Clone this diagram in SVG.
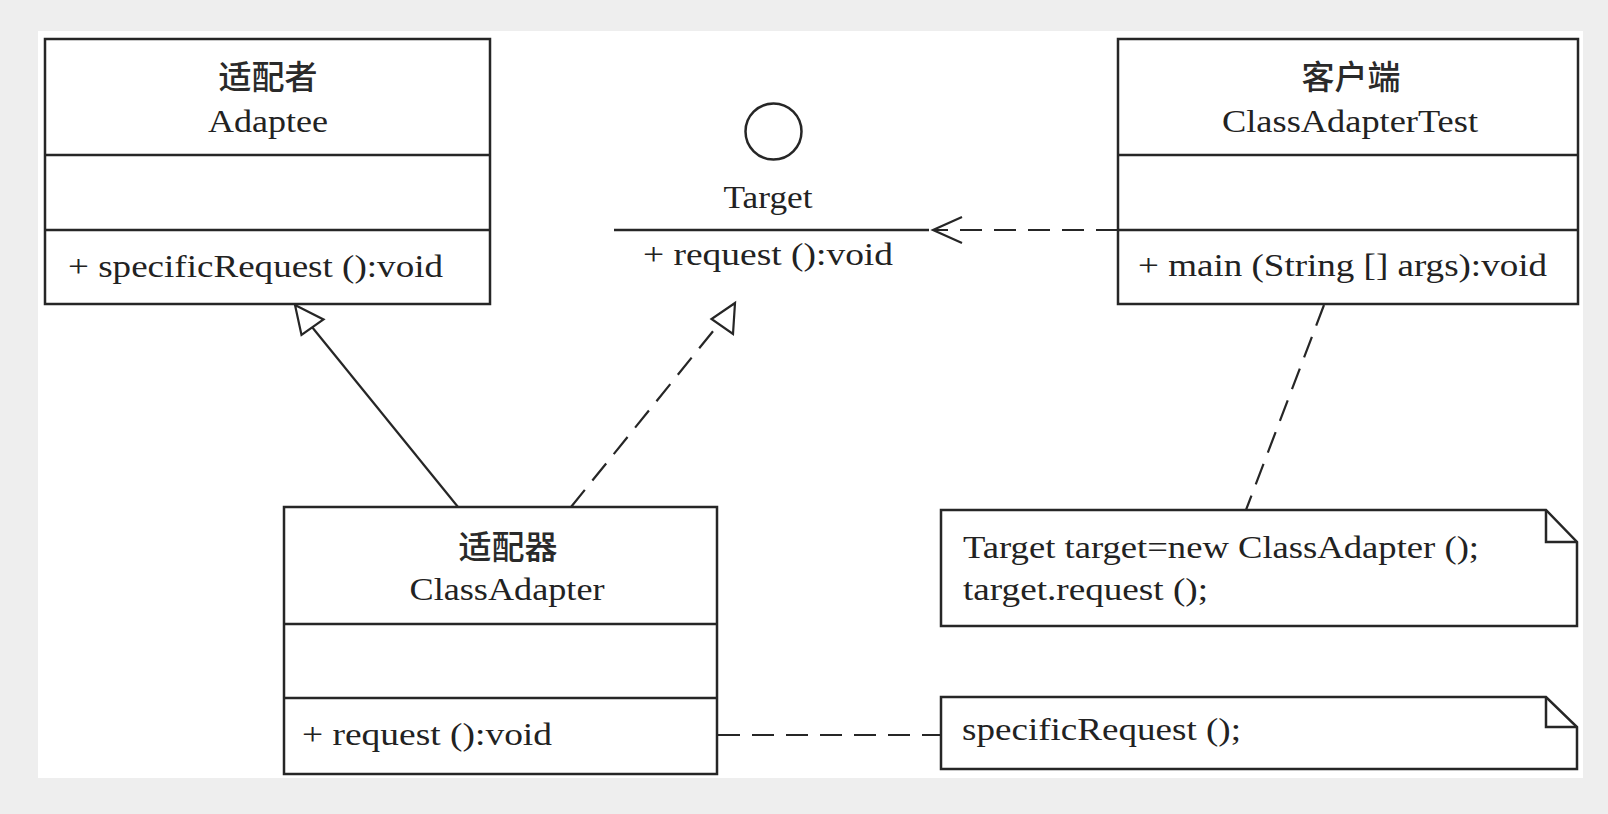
<svg xmlns="http://www.w3.org/2000/svg" width="1608" height="814" viewBox="0 0 1608 814">
  <defs>
    <style>
      .box { fill: #ffffff; stroke: #262626; stroke-width: 2.5; }
      .div { stroke: #262626; stroke-width: 2.5; fill: none; }
      .t { font-family: "Liberation Serif", "Times New Roman", serif; font-size: 32px; fill: #222222; }
      .c { font-family: "Noto Sans CJK SC", "Liberation Sans", sans-serif; font-size: 33px; font-weight: 500; fill: #2a2a2a; }
      .mid { text-anchor: middle; }
      .solid { stroke: #262626; stroke-width: 2.2; fill: none; }
      .dash { stroke: #262626; stroke-width: 2.2; fill: none; stroke-dasharray: 22 12; }
      .head { stroke: #262626; stroke-width: 2.2; fill: #ffffff; stroke-linejoin: miter; }
      .open { stroke: #262626; stroke-width: 2.2; fill: none; }
    </style>
  </defs>

  <rect x="0" y="0" width="1608" height="814" fill="#eeeeee"/>
  <rect x="38" y="31" width="1545" height="747" fill="#ffffff"/>

  <g id="connectors">
    <!-- generalization ClassAdapter -> Adaptee -->
    <line class="solid" x1="458" y1="507" x2="312" y2="327"/>
    <polygon class="head" points="295,305 301.5,335 323.5,319.5"/>
    <!-- realization ClassAdapter -> Target -->
    <line class="dash" x1="571" y1="507" x2="718" y2="325"/>
    <polygon class="head" points="735,303 711.5,319 733,334"/>
    <!-- dependency ClassAdapterTest -> Target -->
    <line class="dash" x1="1118" y1="230" x2="934" y2="230"/>
    <polyline class="open" points="962,217 933,230 962,243"/>
    <!-- note anchors -->
    <line class="dash" x1="1324" y1="305" x2="1246" y2="510"/>
    <line class="dash" x1="718" y1="735" x2="941" y2="735"/>
  </g>

  <g id="adaptee">
    <rect class="box" x="45" y="39" width="445" height="265"/>
    <line class="div" x1="45" y1="155" x2="490" y2="155"/>
    <line class="div" x1="45" y1="230" x2="490" y2="230"/>
    <text class="c mid" x="268" y="89">适配者</text>
    <text class="t mid" x="268" y="132" textLength="120" lengthAdjust="spacingAndGlyphs">Adaptee</text>
    <text class="t" x="68" y="277" textLength="375" lengthAdjust="spacingAndGlyphs">+ specificRequest ():void</text>
  </g>

  <g id="target">
    <circle cx="773.5" cy="131.5" r="28" fill="#ffffff" stroke="#262626" stroke-width="2.5"/>
    <text class="t mid" x="768" y="208" textLength="89" lengthAdjust="spacingAndGlyphs">Target</text>
    <line class="div" x1="614" y1="230" x2="929" y2="230"/>
    <text class="t" x="643" y="265" textLength="250" lengthAdjust="spacingAndGlyphs">+ request ():void</text>
  </g>

  <g id="client">
    <rect class="box" x="1118" y="39" width="460" height="265"/>
    <line class="div" x1="1118" y1="155" x2="1578" y2="155"/>
    <line class="div" x1="1118" y1="230" x2="1578" y2="230"/>
    <text class="c mid" x="1351" y="89">客户端</text>
    <text class="t mid" x="1350" y="132" textLength="256" lengthAdjust="spacingAndGlyphs">ClassAdapterTest</text>
    <text class="t" x="1138" y="276" textLength="409" lengthAdjust="spacingAndGlyphs">+ main (String [] args):void</text>
  </g>

  <g id="adapter">
    <rect class="box" x="284" y="507" width="433" height="267"/>
    <line class="div" x1="284" y1="624" x2="717" y2="624"/>
    <line class="div" x1="284" y1="698" x2="717" y2="698"/>
    <text class="c mid" x="508" y="559">适配器</text>
    <text class="t mid" x="507" y="600" textLength="195" lengthAdjust="spacingAndGlyphs">ClassAdapter</text>
    <text class="t" x="302" y="745" textLength="250" lengthAdjust="spacingAndGlyphs">+ request ():void</text>
  </g>

  <g id="note-client">
    <path class="box" d="M941,510 L1546,510 L1577,542 L1577,626 L941,626 Z"/>
    <polyline class="div" points="1546,510 1546,542 1577,542"/>
    <text class="t" x="963" y="558" textLength="516" lengthAdjust="spacingAndGlyphs">Target target=new ClassAdapter ();</text>
    <text class="t" x="963" y="600" textLength="245" lengthAdjust="spacingAndGlyphs">target.request ();</text>
  </g>

  <g id="note-adapter">
    <path class="box" d="M941,697 L1546,697 L1577,727 L1577,769 L941,769 Z"/>
    <polyline class="div" points="1546,697 1546,727 1577,727"/>
    <text class="t" x="962" y="740" textLength="279" lengthAdjust="spacingAndGlyphs">specificRequest ();</text>
  </g>
</svg>
